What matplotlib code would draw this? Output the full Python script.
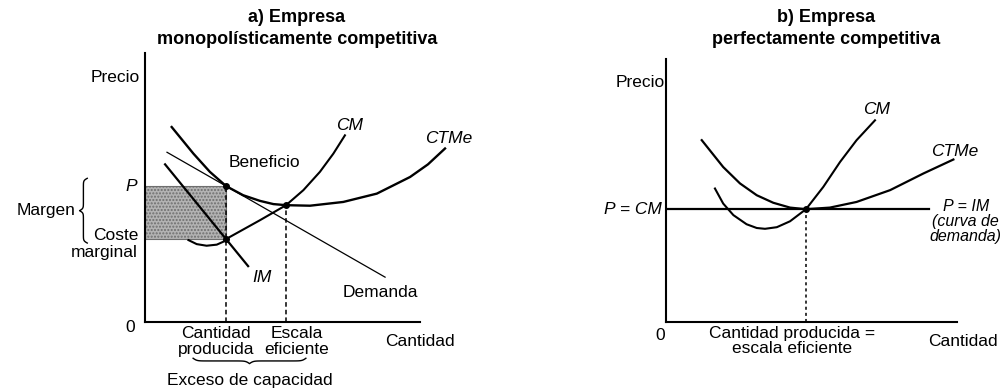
import numpy as np
import matplotlib
matplotlib.use("Agg")
import matplotlib.pyplot as plt
from matplotlib.patches import Rectangle

plt.rcParams['font.family'] = ['Liberation Sans', 'DejaVu Sans']
plt.rcParams['font.size'] = 12.5

# a) empresa monopolisticamente competitiva
ctme_a_q = [0.97, 1.76, 2.36, 2.95, 3.57, 4.18, 4.67, 5.13, 6.0, 7.21, 8.43, 9.64, 10.29, 10.91]
ctme_a_p = [7.26, 6.27, 5.59, 5.06, 4.72, 4.51, 4.39, 4.35, 4.33, 4.47, 4.78, 5.4, 5.87, 6.46]
cm_a_q = [1.58, 1.88, 2.24, 2.61, 2.85, 2.95, 4.18, 5.13, 5.76, 6.36, 6.85, 7.27]
cm_a_p = [3.05, 2.9, 2.84, 2.88, 2.99, 3.09, 3.79, 4.35, 4.91, 5.59, 6.27, 6.95]
dem_q = [0.8, 8.73]
dem_p = [6.32, 1.67]
im_q = [0.73, 3.75]
im_p = [5.87, 2.08]
q_prod = 2.95
precio = 5.06
coste_marg = 3.09
q_efic = 5.13
p_efic = 4.35

# b) empresa perfectamente competitiva
ctme_b_q = [1.3, 2.08, 2.69, 3.3, 3.9, 4.51, 5.09, 5.96, 6.93, 8.15, 9.36, 10.45]
ctme_b_p = [6.77, 5.77, 5.16, 4.72, 4.44, 4.26, 4.2, 4.26, 4.47, 4.91, 5.53, 6.05]
cm_b_q = [1.78, 2.08, 2.45, 2.93, 3.3, 3.6, 4.03, 4.51, 5.09, 5.72, 6.33, 6.93, 7.6]
cm_b_p = [4.97, 4.41, 3.98, 3.64, 3.5, 3.47, 3.53, 3.75, 4.2, 5.03, 5.96, 6.77, 7.51]
q_b = 5.09
p_b = 4.2
p_line_end = 9.56


def llave(ax, a, b, pos, w, vertical=True):
    # llave curva entre a y b
    t = np.linspace(0, 0.5, 60)
    beta = 60.0
    half = 1 / (1 + np.exp(-beta * (t - t[0]))) + 1 / (1 + np.exp(-beta * (t - t[-1]))) - 0.5
    shape = np.concatenate((half, half[-2::-1]))
    s = np.linspace(a, b, len(shape))
    if vertical:
        ax.plot(pos - w * shape, s, color='black', lw=1.0, clip_on=False)
    else:
        ax.plot(s, pos - w * shape, color='black', lw=1.0, clip_on=False)


fig = plt.figure(figsize=(10.03, 3.91), dpi=100)
W, H = 1003, 391

ax1 = fig.add_axes([145 / W, (H - 322) / H, 330 / W, 282 / H])
ax2 = fig.add_axes([666 / W, (H - 322) / H, 330 / W, 282 / H])
for ax in (ax1, ax2):
    ax.set_xlim(0, 12)
    ax.set_ylim(0, 10.5)
    ax.set_xticks([])
    ax.set_yticks([])
    ax.patch.set_alpha(0)
    for s in ('top', 'right'):
        ax.spines[s].set_visible(False)
    for s in ('left', 'bottom'):
        ax.spines[s].set_linewidth(1.5)
ax1.spines['bottom'].set_bounds(0, 10.0)
ax1.spines['left'].set_bounds(0, 10.0)
ax2.spines['bottom'].set_bounds(0, 10.58)
ax2.spines['left'].set_bounds(0, 9.8)

# panel a
ax1.add_patch(Rectangle((0, coste_marg), q_prod, precio - coste_marg, facecolor='#b3b3b3',
                        edgecolor='#6e6e6e', hatch='.....', lw=0.8, zorder=1))
ax1.plot(ctme_a_q, ctme_a_p, color='black', lw=1.7, clip_on=False, zorder=3)
ax1.plot(cm_a_q, cm_a_p, color='black', lw=1.5, clip_on=False, zorder=3)
ax1.plot(dem_q, dem_p, color='black', lw=0.9, zorder=3)
ax1.plot(im_q, im_p, color='black', lw=1.6, zorder=3)
ax1.plot([q_prod, q_prod], [0, precio], color='black', lw=1.1, ls=(0, (3, 2)), zorder=2)
ax1.plot([q_efic, q_efic], [0, p_efic], color='black', lw=1.1, ls=(0, (3, 2)), zorder=2)
ax1.plot([q_prod, q_prod, q_efic], [precio, coste_marg, p_efic], 'o', color='black', ms=4, zorder=4)

ax1.text(-0.18, 9.1, 'Precio', ha='right', va='center')
ax1.text(-0.29, 5.06, 'P', ha='right', va='center', style='italic')
ax1.text(-2.51, 4.16, 'Margen', ha='right', va='center')
llave(ax1, 2.94, 5.35, -2.1, 0.28)
ax1.text(-0.25, 3.23, 'Coste', ha='right', va='center')
ax1.text(-0.25, 2.6, 'marginal', ha='right', va='center')
ax1.text(-0.55, -0.19, '0', ha='center', va='center')
ax1.text(4.25, 1.67, 'IM', ha='center', va='center', style='italic')
ax1.text(8.55, 1.08, 'Demanda', ha='center', va='center')
ax1.text(4.36, 5.95, 'Beneficio', ha='center', va='center')
ax1.text(7.42, 7.32, 'CM', ha='center', va='center', style='italic')
ax1.text(11.05, 6.84, 'CTMe', ha='center', va='center', style='italic')
ax1.text(2.58, -0.41, 'Cantidad', ha='center', va='center')
ax1.text(2.58, -1.04, 'producida', ha='center', va='center')
ax1.text(5.53, -0.41, 'Escala', ha='center', va='center')
ax1.text(5.53, -1.04, 'eficiente', ha='center', va='center')
ax1.text(10.0, -0.71, 'Cantidad', ha='center', va='center')
llave(ax1, 1.75, 5.85, -1.35, 0.2, vertical=False)
ax1.text(3.82, -2.16, 'Exceso de capacidad', ha='center', va='center')

# panel b
ax2.plot([0, p_line_end], [p_b, p_b], color='black', lw=1.6, zorder=3)
ax2.plot(ctme_b_q, ctme_b_p, color='black', lw=1.6, zorder=3)
ax2.plot(cm_b_q, cm_b_p, color='black', lw=1.5, zorder=3)
ax2.plot([q_b, q_b], [0, p_b], color='black', lw=1.1, ls=(0, (2, 2)), zorder=2)
ax2.plot([q_b], [p_b], 'o', color='black', ms=4, zorder=4)

ax2.text(-0.04, 8.92, 'Precio', ha='right', va='center')
ax2.text(-0.15, 4.2, 'P = CM', ha='right', va='center', style='italic')
ax2.text(7.67, 7.92, 'CM', ha='center', va='center', style='italic')
ax2.text(10.5, 6.36, 'CTMe', ha='center', va='center', style='italic')
ax2.text(10.9, 3.75, 'P = IM\n(curva de\ndemanda)', ha='center', va='center',
         style='italic', fontsize=11.5, linespacing=1.0, clip_on=False)
ax2.text(-0.22, -0.52, '0', ha='center', va='center')
ax2.text(4.58, -0.41, 'Cantidad producida =', ha='center', va='center')
ax2.text(4.58, -0.97, 'escala eficiente', ha='center', va='center')
ax2.text(9.55, -0.74, 'Cantidad', ha='left', va='center')

# titulos
fig.text(297 / W, 1 - 17 / H, 'a) Empresa', ha='center', va='center', weight='bold', fontsize=13)
fig.text(297 / W, 1 - 40 / H, 'monopolísticamente competitiva', ha='center', va='center',
         weight='bold', fontsize=13)
fig.text(826 / W, 1 - 17 / H, 'b) Empresa', ha='center', va='center', weight='bold', fontsize=13)
fig.text(826 / W, 1 - 40 / H, 'perfectamente competitiva', ha='center', va='center',
         weight='bold', fontsize=13)

fig.savefig('out.png', dpi=100)
